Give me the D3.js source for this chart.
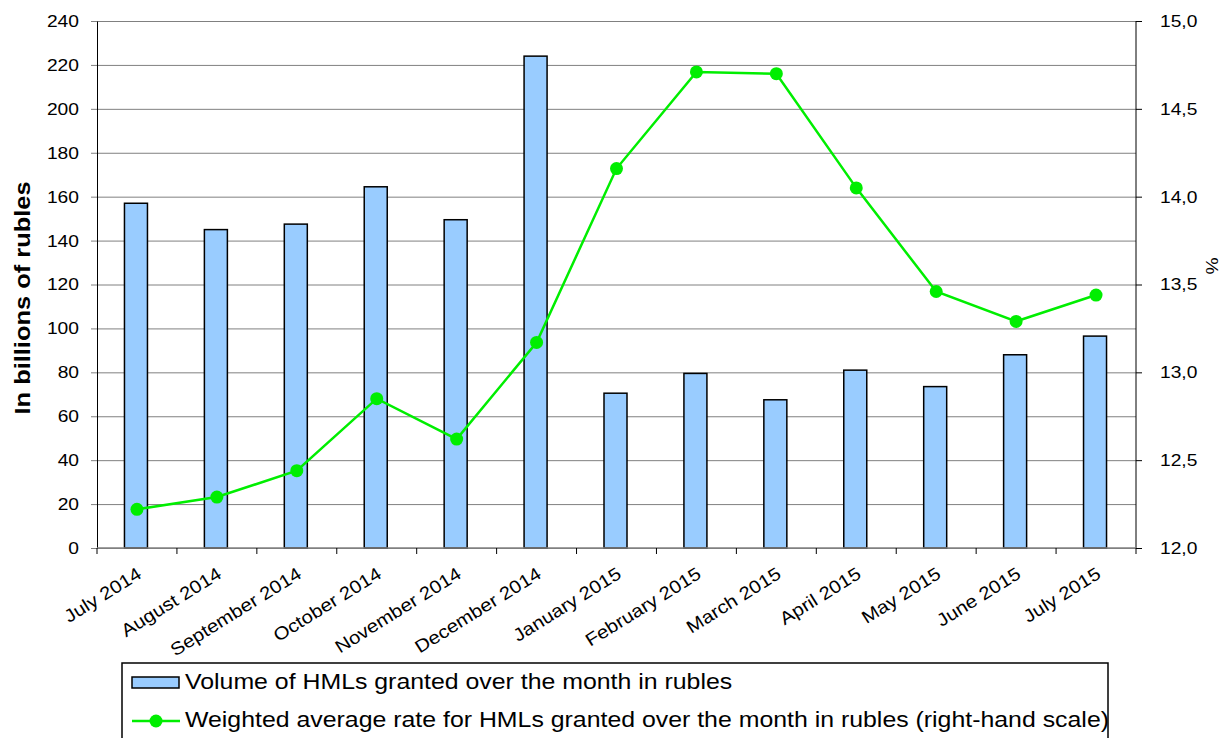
<!DOCTYPE html>
<head>
    <meta charset="UTF-8">
    <title>HML volume and rate</title>
</head>
<style>
    body { margin: 0; background: #fff; }
    text { font-family: "Liberation Sans", Arial, sans-serif; fill: #000; }
</style>
<body>
<script src="https://d3js.org/d3.v7.min.js"></script>
<script>
    var months = ["July 2014", "August 2014", "September 2014", "October 2014", "November 2014", "December 2014",
        "January 2015", "February 2015", "March 2015", "April 2015", "May 2015", "June 2015", "July 2015"];
    var volume = [157, 145, 147.5, 164.5, 149.5, 224, 70.5, 79.5, 67.5, 81, 73.5, 88, 96.5];
    var rate = [12.22, 12.29, 12.44, 12.85, 12.62, 13.17, 14.16, 14.71, 14.70, 14.05, 13.46, 13.29, 13.44];
    var leftTicks = d3.range(0, 241, 20);
    var rightTicks = [12, 12.5, 13, 13.5, 14, 14.5, 15];
    var legendLabels = ["Volume of HMLs granted over the month in rubles",
        "Weighted average rate for HMLs granted over the month in rubles (right-hand scale)"];

    var margin = {top: 21, right: 93, bottom: 190, left: 97},
        width = 1229 - margin.left - margin.right,
        height = 738 - margin.top - margin.bottom;

    var green = "#00ee00", barFill = "#99ccff";
    var stretch = 1.13; // source text is a bit wider than Arial

    var svg = d3.select("body").append("svg")
        .attr("width", 1229)
        .attr("height", 738);

    var g = svg.append("g")
        .attr("transform", "translate(" + margin.left + "," + margin.top + ")");

    var x = d3.scaleBand().domain(months).range([0, width]);
    var y = d3.scaleLinear().domain([0, 240]).range([height, 0]);
    var y2 = d3.scaleLinear().domain([12, 15]).range([height, 0]);

    // gridlines
    g.append("g")
        .call(d3.axisLeft(y).tickValues(leftTicks).tickSize(-width).tickFormat(""))
        .call(function(s) {
            s.select(".domain").remove();
            s.selectAll("line").attr("stroke", "#808080").attr("x1", -6);
        });
    // left axis
    g.append("g")
        .call(d3.axisLeft(y).tickValues(leftTicks).tickSize(0).tickPadding(18))
        .call(function(s) {
            s.select(".domain").attr("stroke", "#000");
            s.selectAll("text").attr("class", "wide").style("font-size", "17px").attr("fill", "#000");
        });

    // right axis
    g.append("g")
        .attr("transform", "translate(" + width + ",0)")
        .call(d3.axisRight(y2).tickValues(rightTicks).tickSize(6).tickPadding(18)
            .tickFormat(function(d) { return d3.format(".1f")(d).replace(".", ","); }))
        .call(function(s) {
            s.select(".domain").attr("stroke", "#000").attr("d", "M0,0V" + height);
            s.selectAll("line").attr("stroke", "#000");
            s.selectAll("text").attr("class", "wide").style("font-size", "17px").attr("fill", "#000");
        });

    // bars
    var barW = 23;
    g.selectAll(".bar").data(months).enter().append("rect")
        .attr("x", function(d) { return x(d) + x.bandwidth() / 2 - barW / 2 - 1; })
        .attr("y", function(d, i) { return y(volume[i]); })
        .attr("width", barW)
        .attr("height", function(d, i) { return height - y(volume[i]); })
        .attr("fill", barFill)
        .attr("stroke", "#000")
        .attr("stroke-width", 1.5);

    // x axis
    var xAxis = g.append("g")
        .attr("transform", "translate(0," + height + ")");
    xAxis.append("line").attr("x1", 0).attr("x2", width).attr("stroke", "#808080").attr("stroke-width", 1.5);
    xAxis.selectAll(".tk").data(d3.range(months.length + 1)).enter().append("line")
        .attr("x1", function(i) { return i * x.step(); })
        .attr("x2", function(i) { return i * x.step(); })
        .attr("y1", 0).attr("y2", 6)
        .attr("stroke", "#000");
    xAxis.selectAll(".lbl").data(months).enter().append("text")
        .attr("class", "wide")
        .attr("transform", function(d) {
            return "translate(" + (x(d) + x.bandwidth() / 2 + 6) + ",29) rotate(-32)";
        })
        .attr("text-anchor", "end")
        .style("font-size", "18px")
        .text(function(d) { return d; });

    // line
    var line = d3.line()
        .x(function(d, i) { return x(months[i]) + x.bandwidth() / 2; })
        .y(function(d) { return y2(d); });
    g.append("path").datum(rate)
        .attr("d", line)
        .attr("fill", "none")
        .attr("stroke", green)
        .attr("stroke-width", 2.5);
    g.selectAll(".dot").data(rate).enter().append("circle")
        .attr("cx", function(d, i) { return x(months[i]) + x.bandwidth() / 2; })
        .attr("cy", function(d) { return y2(d); })
        .attr("r", 6.5)
        .attr("fill", green);

    // axis titles
    svg.append("text")
        .attr("class", "wide")
        .attr("transform", "translate(30,298) rotate(-90)")
        .attr("text-anchor", "middle")
        .style("font-size", "22.5px")
        .style("font-weight", "bold")
        .text("In billions of rubles");
    svg.append("text")
        .attr("class", "wide")
        .attr("transform", "translate(1218,266) rotate(-90)")
        .attr("text-anchor", "middle")
        .style("font-size", "17px")
        .text("%");

    // legend
    var legend = svg.append("g");
    legend.append("rect")
        .attr("x", 122).attr("y", 663).attr("width", 986).attr("height", 90)
        .attr("fill", "#fff").attr("stroke", "#000").attr("stroke-width", 1.5);
    legend.append("rect")
        .attr("x", 132).attr("y", 677).attr("width", 47).attr("height", 11)
        .attr("fill", barFill).attr("stroke", "#000").attr("stroke-width", 1.5);
    legend.append("line")
        .attr("x1", 132).attr("x2", 180).attr("y1", 721).attr("y2", 721)
        .attr("stroke", green).attr("stroke-width", 2.5);
    legend.append("circle").attr("cx", 156).attr("cy", 721).attr("r", 6.5).attr("fill", green);
    legend.selectAll(".lt").data(legendLabels).enter().append("text")
        .attr("class", "wide")
        .attr("x", 185)
        .attr("y", function(d, i) { return 689 + i * 38; })
        .style("font-size", "22px")
        .text(function(d) { return d; });

    // widen the text a little to match the source glyphs
    svg.selectAll("text.wide").each(function() {
        var len = this.getComputedTextLength();
        d3.select(this).attr("textLength", len * stretch).attr("lengthAdjust", "spacingAndGlyphs");
    });
</script>
</body>
